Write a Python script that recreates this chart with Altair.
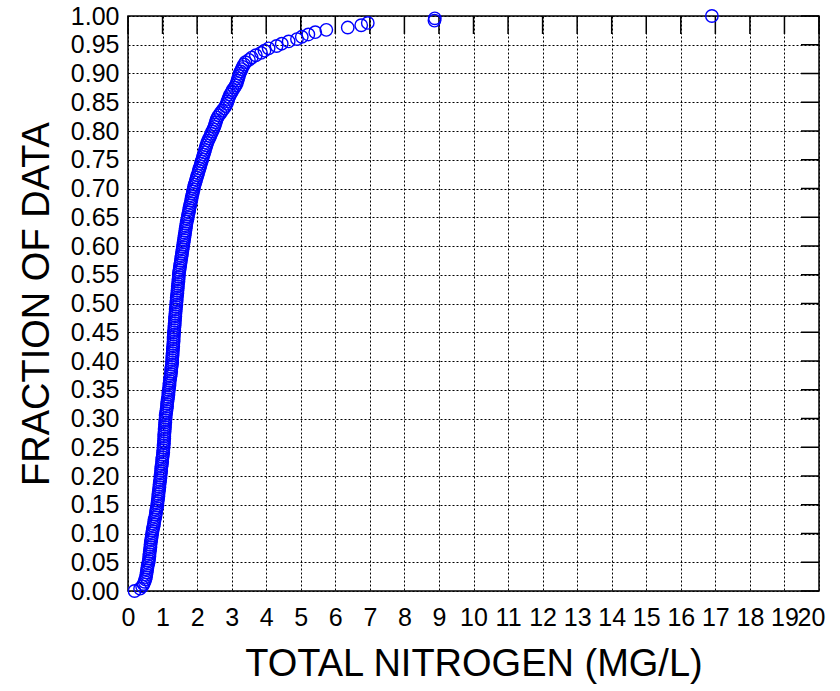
import altair as alt
import pandas as pd

# Sorted total nitrogen concentrations (mg/L), one value per sample
nitrogen = [
    0.19, 0.35, 0.41, 0.45, 0.48, 0.50, 0.52, 0.53, 0.54, 0.55,
    0.56, 0.57, 0.59, 0.60, 0.61, 0.62, 0.62, 0.63, 0.64, 0.65,
    0.65, 0.66, 0.67, 0.68, 0.69, 0.70, 0.71, 0.72, 0.74, 0.75,
    0.76, 0.77, 0.79, 0.80, 0.81, 0.82, 0.83, 0.85, 0.85, 0.86,
    0.87, 0.88, 0.88, 0.89, 0.90, 0.91, 0.91, 0.92, 0.93, 0.94,
    0.94, 0.95, 0.96, 0.96, 0.97, 0.98, 0.99, 0.99, 1.00, 1.01,
    1.02, 1.02, 1.03, 1.03, 1.04, 1.04, 1.05, 1.05, 1.05, 1.06,
    1.06, 1.07, 1.07, 1.08, 1.08, 1.09, 1.09, 1.10, 1.11, 1.12,
    1.13, 1.13, 1.14, 1.15, 1.16, 1.17, 1.17, 1.18, 1.19, 1.20,
    1.20, 1.21, 1.22, 1.23, 1.24, 1.25, 1.25, 1.26, 1.27, 1.28,
    1.28, 1.28, 1.29, 1.29, 1.30, 1.30, 1.31, 1.31, 1.32, 1.32,
    1.32, 1.33, 1.33, 1.34, 1.34, 1.35, 1.35, 1.36, 1.36, 1.37,
    1.37, 1.38, 1.38, 1.39, 1.40, 1.40, 1.41, 1.41, 1.42, 1.43,
    1.43, 1.44, 1.44, 1.45, 1.46, 1.46, 1.47, 1.47, 1.48, 1.49,
    1.50, 1.51, 1.52, 1.53, 1.54, 1.55, 1.56, 1.57, 1.58, 1.59,
    1.60, 1.61, 1.62, 1.63, 1.64, 1.65, 1.66, 1.67, 1.68, 1.69,
    1.70, 1.72, 1.73, 1.74, 1.76, 1.77, 1.78, 1.80, 1.81, 1.83,
    1.84, 1.85, 1.87, 1.88, 1.90, 1.91, 1.93, 1.95, 1.97, 1.99,
    2.01, 2.03, 2.05, 2.07, 2.09, 2.11, 2.13, 2.15, 2.17, 2.19,
    2.21, 2.23, 2.25, 2.27, 2.29, 2.32, 2.35, 2.38, 2.41, 2.44,
    2.47, 2.50, 2.52, 2.54, 2.56, 2.59, 2.63, 2.68, 2.73, 2.78,
    2.82, 2.86, 2.88, 2.90, 2.93, 2.96, 3.00, 3.03, 3.08, 3.12,
    3.15, 3.17, 3.19, 3.21, 3.23, 3.26, 3.29, 3.32, 3.36, 3.40,
    3.50, 3.58, 3.70, 3.85, 3.95, 4.07, 4.30, 4.45, 4.65, 4.89,
    5.03, 5.22, 5.42, 5.74, 6.36, 6.75, 6.94, 8.87, 8.88, 16.90,
]

# Plotting position of each sorted sample (fraction of data at or below it)
n = len(nitrogen)
fraction = [i / (n - 1) for i in range(n)]

x_ticks = [0, 1, 2, 3, 4, 5, 6, 7, 8, 9, 10,
           11, 12, 13, 14, 15, 16, 17, 18, 19, 20]
y_ticks = [0.00, 0.05, 0.10, 0.15, 0.20, 0.25, 0.30, 0.35, 0.40, 0.45, 0.50,
           0.55, 0.60, 0.65, 0.70, 0.75, 0.80, 0.85, 0.90, 0.95, 1.00]

W, H = 691, 575
TICK_LEN = 18

df = pd.DataFrame({"nitrogen": nitrogen, "fraction": fraction})

x_scale = alt.Scale(domain=[0, 20], nice=False, zero=False)
y_scale = alt.Scale(domain=[0, 1], nice=False, zero=False)

x_axis = alt.Axis(
    values=x_ticks,
    title="TOTAL NITROGEN (MG/L)",
    labelPadding=14,
    titlePadding=15,
    labelAlign="center",
    # keep the last label inside the page
    labelOffset={"condition": {"test": "datum.value == 20", "value": -8}, "value": 0},
)
y_axis = alt.Axis(
    values=y_ticks,
    format=".2f",
    title="FRACTION OF DATA",
    labelPadding=9,
    titlePadding=14,
)

points = alt.Chart(df).mark_point(
    shape="circle", filled=False, color="#0000FF", size=155, strokeWidth=1.4, opacity=1
).encode(
    x=alt.X("nitrogen:Q", scale=x_scale, axis=x_axis),
    y=alt.Y("fraction:Q", scale=y_scale, axis=y_axis),
)

# Inward tick marks along the top and right edges of the frame
top_ticks = alt.Chart(pd.DataFrame({"nitrogen": x_ticks})).mark_rule(
    color="black", strokeWidth=1.5
).encode(
    x=alt.X("nitrogen:Q", scale=x_scale, axis=x_axis),
    y=alt.value(0),
    y2=alt.value(TICK_LEN),
)
right_ticks = alt.Chart(pd.DataFrame({"fraction": y_ticks})).mark_rule(
    color="black", strokeWidth=1.5
).encode(
    y=alt.Y("fraction:Q", scale=y_scale, axis=y_axis),
    x=alt.value(W - TICK_LEN),
    x2=alt.value(W),
)

chart = alt.layer(top_ticks, right_ticks, points).properties(
    width=W,
    height=H,
    autosize=alt.AutoSizeParams(type="none"),
    padding={"left": 128, "top": 16, "right": 21, "bottom": 100},
    background="white",
).configure_view(
    stroke="black", strokeWidth=1.5, fill="white"
).configure_axis(
    labelFont="Liberation Sans",
    labelFontSize=25,
    labelColor="black",
    labelOverlap=False,
    labelFlush=False,
    titleFont="Liberation Sans",
    titleFontSize=38,
    titleFontWeight="normal",
    titleColor="black",
    grid=True,
    gridColor="black",
    gridDash=[2, 2],
    gridWidth=1,
    gridOpacity=1,
    domain=False,
    ticks=False,
    tickSize=0,
)

chart.save("out.html", embed_options={"renderer": "svg", "actions": False})
